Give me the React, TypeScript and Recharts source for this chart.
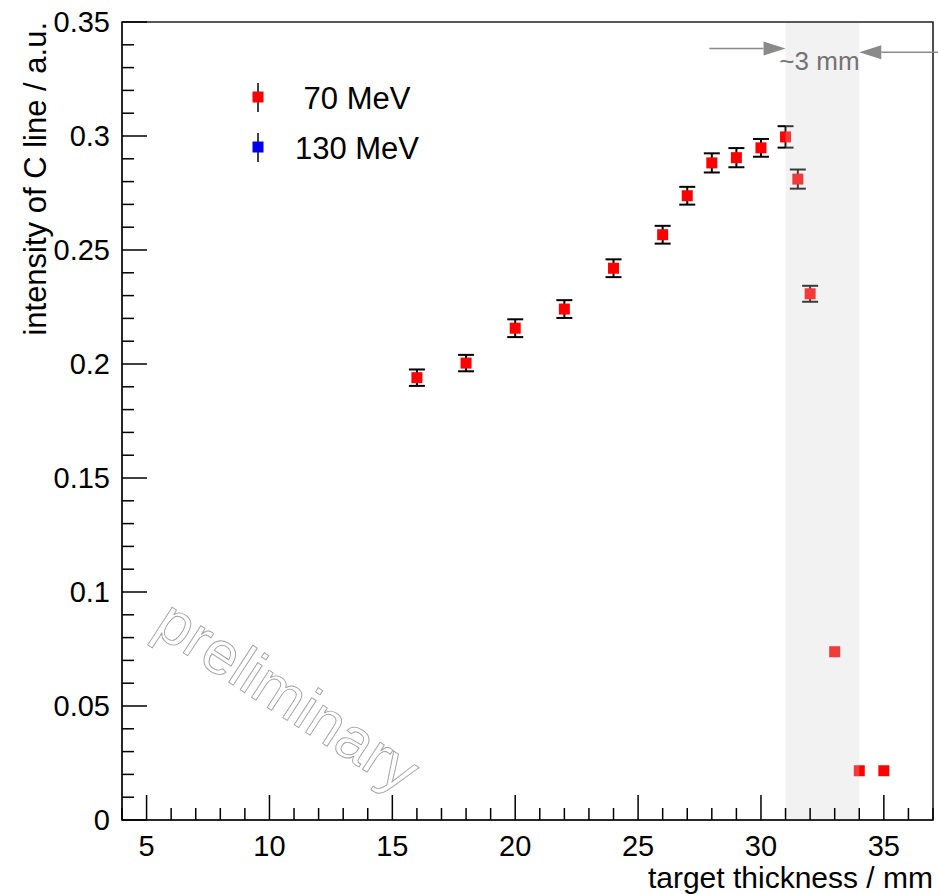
import React from 'react';
import {
  ScatterChart, Scatter, XAxis, YAxis, ErrorBar, ReferenceArea, ReferenceLine,
  ReferenceDot, Legend, Label,
} from 'recharts';

// ---- data ----
const thickness70 = [16, 18, 20, 22, 24, 26, 27, 28, 29, 30, 31, 31.5, 32, 33, 34, 35];
const intensity70 = [0.194, 0.2004, 0.2157, 0.2241, 0.242, 0.2567, 0.2738, 0.2882, 0.2905, 0.2948, 0.2996, 0.2811, 0.2308, 0.0738, 0.0216, 0.0216];
const error70 = [0.0036, 0.0036, 0.0039, 0.0039, 0.0039, 0.0039, 0.0039, 0.0042, 0.0042, 0.0039, 0.0047, 0.0042, 0.0035, 0, 0, 0];

const thickness130: number[] = [];
const intensity130: number[] = [];
const error130: number[] = [];

const seriesNames = ['70 MeV', '130 MeV'];
const seriesColors = ['#ff0000', '#0000ee'];

const xTicks = [4, 5, 6, 7, 8, 9, 10, 11, 12, 13, 14, 15, 16, 17, 18, 19, 20, 21, 22, 23, 24, 25, 26, 27, 28, 29, 30, 31, 32, 33, 34, 35, 36, 37];
const xMajorLabels = [5, 10, 15, 20, 25, 30, 35];
const yTicks = [0, 0.01, 0.02, 0.03, 0.04, 0.05, 0.06, 0.07, 0.08, 0.09, 0.1, 0.11, 0.12, 0.13, 0.14, 0.15, 0.16, 0.17, 0.18, 0.19, 0.2, 0.21, 0.22, 0.23, 0.24, 0.25, 0.26, 0.27, 0.28, 0.29, 0.3, 0.31, 0.32, 0.33, 0.34, 0.35];
const yMajorLabels = ['0', '0.05', '0.1', '0.15', '0.2', '0.25', '0.3', '0.35'];

const xDomain = [4, 37];
const yDomain = [0, 0.35];
const bandRange = [31, 34];

const FONT = '"Liberation Sans", Arial, Helvetica, sans-serif';

const data70 = thickness70.map((x, i) => ({ x, y: intensity70[i], err: error70[i] }));
const data130 = thickness130.map((x, i) => ({ x, y: intensity130[i], err: error130[i] }));

const XTick = (props: any) => {
  const { x, y, payload } = props;
  const v = payload.value;
  const major = xMajorLabels.includes(v);
  return (
    <g>
      <line x1={x} x2={x} y1={y} y2={y - (major ? 25 : 12)} stroke="#000" strokeWidth={1.5} />
      {major && (
        <text x={x} y={y + 36} textAnchor="middle" fontSize={29} fontFamily={FONT} fill="#000">
          {String(v)}
        </text>
      )}
    </g>
  );
};

const YTick = (props: any) => {
  const { x, y, payload } = props;
  const v = payload.value;
  const lbl = String(v);
  const major = yMajorLabels.includes(lbl);
  return (
    <g>
      <line x1={x} x2={x + (major ? 25 : 12)} y1={y} y2={y} stroke="#000" strokeWidth={1.5} />
      {major && (
        <text x={x - 12} y={y} dy="0.36em" textAnchor="end" fontSize={29} fontFamily={FONT} fill="#000">
          {lbl}
        </text>
      )}
    </g>
  );
};

const XTitle = (props: any) => {
  const vb = props.viewBox || { x: 122, y: 820, width: 811, height: 50 };
  return (
    <text x={vb.x + vb.width} y={vb.y + 68} textAnchor="end" fontSize={30} fontFamily={FONT} fill="#000">
      target thickness / mm
    </text>
  );
};

const YTitle = (props: any) => {
  const vb = props.viewBox || { x: 22, y: 22, width: 100, height: 798 };
  const tx = vb.x + 24;
  const ty = vb.y;
  return (
    <text transform={`translate(${tx},${ty}) rotate(-90)`} x={0} y={0} textAnchor="end" fontSize={31} fontFamily={FONT} fill="#000">
      intensity of C line / a.u.
    </text>
  );
};

const SquareShape = (props: any) => {
  const { cx, cy, fill } = props;
  if (cx == null || cy == null) return null;
  return <rect x={cx - 5.5} y={cy - 5.5} width={11} height={11} fill={fill} />;
};

const Arrow = (props: any) => {
  const { x1, y1, x2, y2 } = props;
  if (x1 == null) return null;
  const ang = Math.atan2(y2 - y1, x2 - x1);
  const L = 22;
  const W = 7;
  const bx = x2 - L * Math.cos(ang);
  const by = y2 - L * Math.sin(ang);
  const px = -Math.sin(ang) * W;
  const py = Math.cos(ang) * W;
  return (
    <g>
      <line x1={x1} y1={y1} x2={bx} y2={by} stroke="#8a8a8a" strokeWidth={1.5} />
      <polygon points={`${x2},${y2} ${bx + px},${by + py} ${bx - px},${by - py}`} fill="#8a8a8a" />
    </g>
  );
};

const BandText = (props: any) => {
  const { cx, cy } = props;
  return (
    <text x={cx} y={cy} textAnchor="middle" fontSize={26} fontFamily={FONT} fill="#737373">
      ~3 mm
    </text>
  );
};

const Watermark = (props: any) => {
  const { cx, cy } = props;
  return (
    <text
      x={cx}
      y={cy}
      textAnchor="middle"
      dominantBaseline="central"
      fontSize={61}
      fontFamily={FONT}
      fill="none"
      stroke="#a0a0a0"
      strokeWidth={0.9}
      transform={`rotate(33, ${cx}, ${cy})`}
    >
      preliminary
    </text>
  );
};

const LegendBox = () => (
  <svg width={220} height={110} style={{ overflow: 'visible' }}>
    {seriesNames.map((name, i) => {
      const cy = 27 + i * 50;
      return (
        <g key={name}>
          <line x1={28} x2={28} y1={cy - 14} y2={cy + 15} stroke="#000" strokeWidth={1.5} />
          <rect x={22.5} y={cy - 5.5} width={11} height={11} fill={seriesColors[i]} />
          <text x={127} y={cy + 12} textAnchor="middle" fontSize={31} fontFamily={FONT} fill="#000">
            {name}
          </text>
        </g>
      );
    })}
  </svg>
);

export default function App() {
  return (
    <div style={{ position: 'absolute', left: 0, top: 0, width: 938, height: 894, background: '#fff' }}>
      <ScatterChart width={938} height={894} margin={{ top: 22, right: 5, bottom: 24, left: 22 }}>
        <XAxis
          type="number"
          dataKey="x"
          domain={xDomain}
          ticks={xTicks}
          interval={0}
          allowDataOverflow
          tickSize={0}
          tickMargin={0}
          tickLine={false}
          axisLine={{ stroke: '#000', strokeWidth: 1.5 }}
          tick={<XTick />}
          height={50}
        >
          <Label content={<XTitle />} />
        </XAxis>
        <YAxis
          type="number"
          dataKey="y"
          domain={yDomain}
          ticks={yTicks}
          interval={0}
          allowDataOverflow
          tickSize={0}
          tickMargin={0}
          tickLine={false}
          axisLine={{ stroke: '#000', strokeWidth: 1.5 }}
          tick={<YTick />}
          width={100}
        >
          <Label content={<YTitle />} />
        </YAxis>
        <Legend
          content={<LegendBox />}
          layout="horizontal"
          verticalAlign="middle"
          align="center"
          wrapperStyle={{ position: 'absolute', left: 230, top: 70, width: 220, height: 110 }}
        />
        <ReferenceDot x={10.75} y={0.0545} r={0} shape={<Watermark />} />
        <Scatter name={seriesNames[1]} data={data130} fill={seriesColors[1]} shape={<SquareShape />} isAnimationActive={false}>
          <ErrorBar dataKey="err" direction="y" width={8} stroke="#000" strokeWidth={2} />
        </Scatter>
        <Scatter name={seriesNames[0]} data={data70} fill={seriesColors[0]} shape={<SquareShape />} isAnimationActive={false}>
          <ErrorBar dataKey="err" direction="y" width={8} stroke="#000" strokeWidth={2} />
        </Scatter>
        <ReferenceArea
          x1={bandRange[0]}
          x2={bandRange[1]}
          y1={yDomain[0]}
          y2={yDomain[1]}
          fill="#d2d2d2"
          fillOpacity={0.28}
          stroke="none"
          zIndex={1500}
        />
        <ReferenceArea
          x1={xDomain[0]}
          x2={xDomain[1]}
          y1={yDomain[0]}
          y2={yDomain[1]}
          fill="none"
          stroke="#222"
          strokeWidth={1.6}
          zIndex={1600}
        />
        <ReferenceLine
          segment={[{ x: 27.9, y: 0.3384 }, { x: 31.0, y: 0.3384 }]}
          ifOverflow="visible"
          shape={<Arrow />}
          zIndex={1700}
        />
        <ReferenceLine
          segment={[{ x: 37.25, y: 0.3367 }, { x: 34.0, y: 0.3367 }]}
          ifOverflow="visible"
          shape={<Arrow />}
          zIndex={1700}
        />
        <ReferenceDot x={32.38} y={0.3289} r={0} shape={<BandText />} zIndex={1700} />
      </ScatterChart>
    </div>
  );
}
